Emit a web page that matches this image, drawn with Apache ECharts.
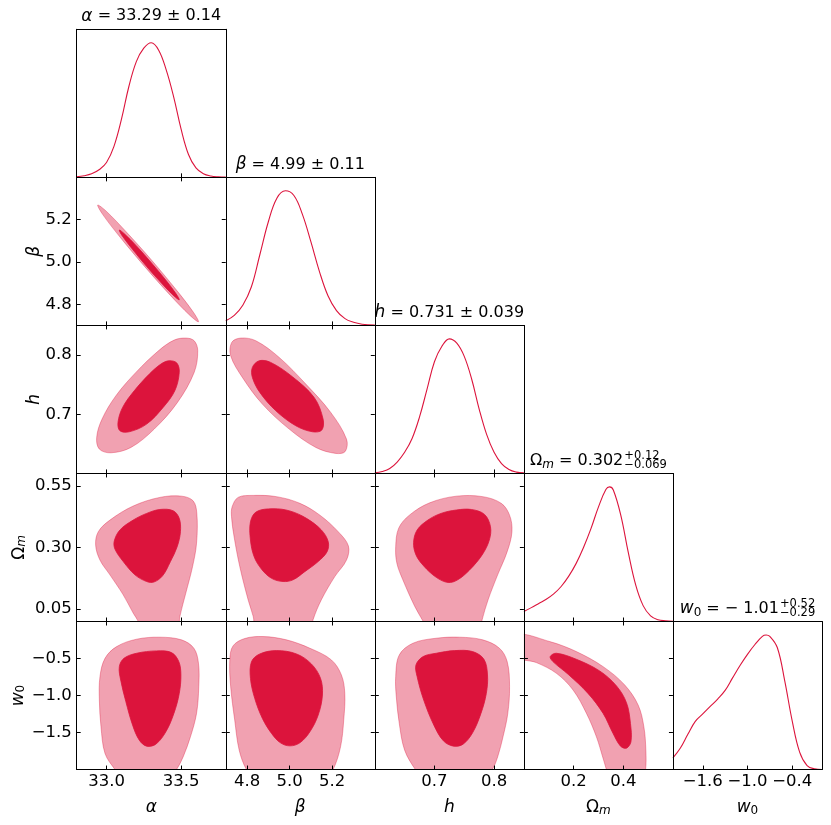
<!DOCTYPE html>
<html>
<head>
<meta charset="utf-8">
<script src="https://cdn.jsdelivr.net/npm/echarts@6.0.0/dist/echarts.min.js"></script>
<style>
  html, body { margin: 0; padding: 0; background: #fff; }
  #chart { width: 831px; height: 825px; }
</style>
</head>
<body>
<div id="chart"></div>
<script>
// parameter order: alpha, beta, h, Omega_m, w0
const axisMin = [32.8, 4.7, 0.6, 0.0, -2.0];
const axisMax = [33.8, 5.4, 0.85, 0.6, 0.0];
const xTickValues = [[33.0, 33.5], [4.8, 5.0, 5.2], [0.7, 0.8], [0.2, 0.4], [-1.6, -1.0, -0.4]];
const yTickValues = [[], [4.8, 5.0, 5.2], [0.7, 0.8], [0.05, 0.30, 0.55], [-1.5, -1.0, -0.5]];
const xTickDigits = [1, 1, 1, 1, 1];
const yTickDigits = [1, 1, 1, 2, 1];
const axisNames = ['{i|α}', '{i|β}', '{i|h}', 'Ω{si|m}', '{i|w}{s|0}'];
const titleMain = ['{i|α} = 33.29 ± 0.14', '{i|β} = 4.99 ± 0.11', '{i|h} = 0.731 ± 0.039', 'Ω{si|m} = 0.302', '{i|w}{s|0} = − 1.01'];
const titleUpper = ['', '', '', '+0.12', '+0.52'];
const titleLower = ['', '', '', '−0.069', '−0.29'];

// 1D marginals: [value, normalised density]
const margAlpha = [[32.80, 0.005], [32.85, 0.012], [32.90, 0.026], [32.95, 0.056], [33.00, 0.11], [33.05, 0.23], [33.10, 0.43], [33.15, 0.675], [33.20, 0.86], [33.25, 0.96], [33.30, 1.0], [33.35, 0.945], [33.40, 0.80], [33.45, 0.60], [33.50, 0.36], [33.55, 0.17], [33.60, 0.07], [33.65, 0.027], [33.70, 0.01], [33.75, 0.004], [33.80, 0.002]];
const margBeta = [[4.70, 0.035], [4.74, 0.075], [4.78, 0.15], [4.82, 0.285], [4.86, 0.525], [4.90, 0.77], [4.94, 0.945], [4.98, 1.0], [5.02, 0.965], [5.06, 0.825], [5.10, 0.62], [5.14, 0.40], [5.18, 0.22], [5.22, 0.11], [5.26, 0.05], [5.30, 0.023], [5.34, 0.009], [5.40, 0.002]];
const margH = [[0.600, 0.005], [0.6125, 0.015], [0.625, 0.037], [0.6375, 0.085], [0.650, 0.157], [0.6625, 0.26], [0.675, 0.42], [0.6875, 0.625], [0.700, 0.83], [0.7125, 0.945], [0.725, 1.0], [0.7375, 0.968], [0.750, 0.87], [0.7625, 0.70], [0.775, 0.478], [0.7875, 0.29], [0.800, 0.157], [0.8125, 0.073], [0.825, 0.029], [0.8375, 0.01], [0.850, 0.004]];
const margOmegam = [[0.00, 0.074], [0.03, 0.103], [0.06, 0.134], [0.09, 0.165], [0.12, 0.205], [0.15, 0.26], [0.18, 0.335], [0.21, 0.43], [0.24, 0.55], [0.27, 0.69], [0.30, 0.85], [0.33, 0.98], [0.345, 1.0], [0.36, 0.977], [0.39, 0.79], [0.42, 0.515], [0.45, 0.272], [0.48, 0.118], [0.51, 0.042], [0.54, 0.013], [0.57, 0.005], [0.60, 0.002]];
const margW0 = [[-2.0, 0.087], [-1.9, 0.16], [-1.8, 0.262], [-1.7, 0.358], [-1.6, 0.413], [-1.5, 0.469], [-1.4, 0.524], [-1.3, 0.588], [-1.2, 0.681], [-1.1, 0.773], [-1.0, 0.856], [-0.9, 0.929], [-0.8, 0.99], [-0.75, 1.0], [-0.7, 0.99], [-0.6, 0.907], [-0.5, 0.659], [-0.4, 0.362], [-0.3, 0.13], [-0.2, 0.03], [-0.1, 0.005], [0.0, 0.0]];
const marginals = [margAlpha, margBeta, margH, margOmegam, margW0];

// 2D credible regions, boundary points [x, y]: 95% (outer) and 68% (inner)
const alphaBeta95 = [[33.617, 4.717], [33.583, 4.762], [33.468, 4.868], [33.303, 5.008], [33.130, 5.144], [32.998, 5.240], [32.941, 5.269], [32.974, 5.225], [33.089, 5.119], [33.255, 4.979], [33.427, 4.843], [33.560, 4.747]];
const alphaBeta68 = [[33.488, 4.821], [33.468, 4.848], [33.400, 4.912], [33.302, 4.995], [33.199, 5.077], [33.120, 5.133], [33.086, 5.151], [33.105, 5.124], [33.173, 5.061], [33.271, 4.977], [33.374, 4.896], [33.453, 4.839]];
const alphaH95 = [[33.532, 0.8286], [33.588, 0.8241], [33.612, 0.8072], [33.588, 0.7706], [33.476, 0.7199], [33.320, 0.6749], [33.164, 0.6439], [33.030, 0.6349], [32.952, 0.6411], [32.934, 0.6608], [32.970, 0.6918], [33.063, 0.7312], [33.197, 0.7706], [33.354, 0.8083], [33.454, 0.8252]];
const alphaH68 = [[33.420, 0.7903], [33.472, 0.7864], [33.488, 0.7706], [33.458, 0.7396], [33.380, 0.7115], [33.269, 0.6833], [33.153, 0.6704], [33.090, 0.6721], [33.077, 0.6861], [33.108, 0.7115], [33.186, 0.7396], [33.287, 0.7678], [33.365, 0.7847]];
const betaH95 = [[4.728, 0.8213], [4.770, 0.8286], [4.841, 0.8241], [4.951, 0.7959], [5.076, 0.7509], [5.193, 0.7030], [5.267, 0.6580], [5.261, 0.6372], [5.217, 0.6338], [5.123, 0.6439], [4.998, 0.6749], [4.872, 0.7171], [4.778, 0.7622], [4.723, 0.7988]];
const betaH68 = [[4.825, 0.7791], [4.857, 0.7903], [4.911, 0.7875], [5.013, 0.7633], [5.115, 0.7284], [5.157, 0.6918], [5.151, 0.6732], [5.107, 0.6704], [5.029, 0.6805], [4.935, 0.7059], [4.860, 0.7368], [4.825, 0.7622]];
const alphaOmegam95 = [[32.927, 0.310], [32.945, 0.364], [33.023, 0.411], [33.179, 0.468], [33.358, 0.503], [33.503, 0.508], [33.581, 0.489], [33.606, 0.438], [33.604, 0.317], [33.577, 0.222], [33.532, 0.115], [33.492, 0.020], [33.475, -0.05], [33.36, -0.10], [33.24, -0.05], [33.213, 0.0], [33.179, 0.034], [33.112, 0.108], [33.023, 0.189], [32.956, 0.249]];
const alphaOmegam68 = [[33.358, 0.454], [33.447, 0.449], [33.488, 0.418], [33.496, 0.364], [33.474, 0.303], [33.429, 0.243], [33.376, 0.185], [33.318, 0.160], [33.269, 0.162], [33.191, 0.189], [33.112, 0.243], [33.057, 0.293], [33.052, 0.326], [33.090, 0.371], [33.179, 0.411], [33.269, 0.438]];
const betaOmegam95 = [[4.730, 0.465], [4.758, 0.503], [4.828, 0.511], [4.938, 0.506], [5.048, 0.479], [5.142, 0.431], [5.228, 0.364], [5.276, 0.306], [5.267, 0.249], [5.212, 0.182], [5.149, 0.088], [5.110, 0.007], [5.095, -0.05], [4.97, -0.10], [4.845, -0.05], [4.829, 0.02], [4.805, 0.088], [4.766, 0.222], [4.739, 0.344], [4.727, 0.425]];
const betaOmegam68 = [[4.816, 0.404], [4.844, 0.445], [4.922, 0.457], [5.001, 0.448], [5.079, 0.418], [5.149, 0.371], [5.181, 0.324], [5.176, 0.283], [5.134, 0.243], [5.071, 0.202], [5.016, 0.169], [4.969, 0.162], [4.915, 0.175], [4.868, 0.212], [4.833, 0.263], [4.816, 0.330]];
const hOmegam95 = [[0.635, 0.303], [0.640, 0.378], [0.658, 0.431], [0.692, 0.481], [0.737, 0.508], [0.781, 0.506], [0.812, 0.479], [0.826, 0.431], [0.830, 0.364], [0.822, 0.283], [0.806, 0.189], [0.790, 0.088], [0.780, 0.007], [0.775, -0.05], [0.735, -0.10], [0.692, -0.05], [0.680, 0.005], [0.667, 0.061], [0.647, 0.169], [0.637, 0.236]];
const hOmegam68 = [[0.737, 0.452], [0.762, 0.454], [0.784, 0.434], [0.794, 0.384], [0.792, 0.330], [0.780, 0.270], [0.759, 0.209], [0.739, 0.169], [0.723, 0.158], [0.703, 0.179], [0.682, 0.225], [0.669, 0.270], [0.665, 0.320], [0.671, 0.371], [0.689, 0.411], [0.711, 0.438]];
const alphaW095 = [[32.956, -0.745], [32.990, -0.497], [33.068, -0.339], [33.202, -0.239], [33.358, -0.212], [33.503, -0.248], [33.586, -0.361], [33.617, -0.564], [33.619, -0.880], [33.604, -1.242], [33.563, -1.558], [33.514, -1.829], [33.470, -2.0], [33.43, -2.1], [33.26, -2.16], [33.10, -2.1], [33.057, -2.0], [32.990, -1.783], [32.963, -1.422], [32.952, -1.061]];
const alphaW068 = [[33.336, -0.397], [33.436, -0.420], [33.485, -0.542], [33.499, -0.722], [33.488, -0.971], [33.452, -1.242], [33.398, -1.490], [33.331, -1.657], [33.269, -1.684], [33.220, -1.603], [33.175, -1.400], [33.130, -1.084], [33.095, -0.790], [33.086, -0.610], [33.117, -0.497], [33.202, -0.429]];
const betaW095 = [[4.719, -0.519], [4.734, -0.330], [4.789, -0.230], [4.875, -0.203], [4.985, -0.248], [5.095, -0.361], [5.196, -0.519], [5.243, -0.722], [5.259, -0.971], [5.254, -1.332], [5.239, -1.693], [5.204, -2.0], [5.17, -2.1], [5.0, -2.16], [4.83, -2.1], [4.797, -2.0], [4.763, -1.738], [4.742, -1.332], [4.723, -0.880]];
const betaW068 = [[4.821, -0.542], [4.860, -0.438], [4.938, -0.393], [5.032, -0.438], [5.102, -0.573], [5.145, -0.768], [5.154, -0.993], [5.134, -1.264], [5.095, -1.490], [5.048, -1.639], [5.001, -1.680], [4.957, -1.639], [4.915, -1.512], [4.872, -1.309], [4.836, -1.038], [4.816, -0.768]];
const hW095 = [[0.635, -0.745], [0.641, -0.452], [0.664, -0.293], [0.703, -0.226], [0.742, -0.212], [0.781, -0.248], [0.809, -0.361], [0.822, -0.542], [0.826, -0.880], [0.823, -1.242], [0.815, -1.558], [0.806, -1.829], [0.797, -2.0], [0.785, -2.1], [0.733, -2.16], [0.68, -2.1], [0.668, -2.0], [0.650, -1.738], [0.641, -1.377], [0.636, -1.016]];
const hW068 = [[0.703, -0.429], [0.734, -0.393], [0.764, -0.406], [0.783, -0.510], [0.789, -0.722], [0.787, -0.971], [0.778, -1.242], [0.764, -1.503], [0.748, -1.657], [0.732, -1.684], [0.715, -1.612], [0.699, -1.400], [0.682, -1.061], [0.671, -0.745], [0.669, -0.587], [0.681, -0.474]];
const omegamW095 = [[-0.03, -0.181], [0.104, -0.271], [0.211, -0.406], [0.319, -0.610], [0.406, -0.858], [0.460, -1.129], [0.483, -1.422], [0.491, -1.738], [0.490, -2.0], [0.48, -2.1], [0.41, -2.16], [0.34, -2.1], [0.332, -2.0], [0.319, -1.851], [0.292, -1.558], [0.252, -1.242], [0.198, -0.926], [0.131, -0.700], [0.050, -0.555], [-0.03, -0.474]];
const omegamW068 = [[0.106, -0.474], [0.131, -0.429], [0.211, -0.510], [0.305, -0.668], [0.373, -0.871], [0.413, -1.097], [0.429, -1.377], [0.431, -1.625], [0.413, -1.711], [0.389, -1.684], [0.359, -1.512], [0.319, -1.242], [0.258, -0.971], [0.178, -0.713], [0.117, -0.542]];

// [row, col, outer, inner]
const panels2d = [
  [1, 0, alphaBeta95, alphaBeta68],
  [2, 0, alphaH95, alphaH68], [2, 1, betaH95, betaH68],
  [3, 0, alphaOmegam95, alphaOmegam68], [3, 1, betaOmegam95, betaOmegam68], [3, 2, hOmegam95, hOmegam68],
  [4, 0, alphaW095, alphaW068], [4, 1, betaW095, betaW068], [4, 2, hW095, hW068], [4, 3, omegamW095, omegamW068]
];

const FONT = 'DejaVu Sans';
const ink = '#000';
const crimson = '#dc143c';
const pale = '#f1a1b1';
const gridLeft = 76.7, gridTop = 29.3, cellW = 149.06, cellH = 148.05;
const yNameGap = [0, 34, 34, 49, 50];

const rich = {
  i: { fontFamily: FONT, fontStyle: 'italic', fontSize: 17, color: ink, fill: ink },
  si: { fontFamily: FONT, fontStyle: 'italic', fontSize: 12, color: ink, fill: ink, verticalAlign: 'bottom', lineHeight: 12 },
  s: { fontFamily: FONT, fontSize: 12, color: ink, fill: ink, verticalAlign: 'bottom', lineHeight: 12 }
};

function fmt(d) {
  return v => v.toFixed(d).replace('-', '\u2212');
}

const grid = [], xAxis = [], yAxis = [], series = [];
const panelAxes = {};

function addPanel(r, c) {
  const gi = grid.length;
  const diag = r === c;
  grid.push({ left: gridLeft + c * cellW, top: gridTop + r * cellH, width: cellW, height: cellH, outerBoundsMode: 'none' });
  const line = { show: true, onZero: false, lineStyle: { color: ink, width: 1 } };
  const xi = xAxis.length;
  xAxis.push({
    gridIndex: gi, type: 'value', position: 'bottom', min: axisMin[c], max: axisMax[c], z: 10,
    axisLine: line, splitLine: { show: false },
    axisTick: { show: true, inside: true, length: 4, customValues: xTickValues[c], lineStyle: { color: ink } },
    axisLabel: { show: r === 4, customValues: xTickValues[c], formatter: fmt(xTickDigits[c]), margin: 4,
      color: ink, fontFamily: FONT, fontSize: 16.5 },
    name: r === 4 ? axisNames[c] : '', nameLocation: 'middle', nameGap: 30, nameMoveOverlap: false,
    nameTextStyle: { color: ink, fontFamily: FONT, fontSize: 17, rich: rich }
  });
  xAxis.push({
    gridIndex: gi, type: 'value', position: 'top', min: axisMin[c], max: axisMax[c], z: 10,
    axisLine: line, splitLine: { show: false },
    axisTick: { show: !diag, inside: true, length: 4, customValues: xTickValues[c], lineStyle: { color: ink } },
    axisLabel: { show: false }
  });
  const yi = yAxis.length;
  const ymin = diag ? 0 : axisMin[r], ymax = diag ? 1.1 : axisMax[r];
  yAxis.push({
    gridIndex: gi, type: 'value', position: 'left', min: ymin, max: ymax, z: 10,
    axisLine: line, splitLine: { show: false },
    axisTick: { show: !diag, inside: true, length: 4, customValues: yTickValues[r], lineStyle: { color: ink } },
    axisLabel: { show: !diag && c === 0, customValues: yTickValues[r], formatter: fmt(yTickDigits[r]), margin: 5,
      color: ink, fontFamily: FONT, fontSize: 16.5 },
    name: (!diag && c === 0) ? axisNames[r] : '', nameLocation: 'middle', nameGap: yNameGap[r], nameMoveOverlap: false,
    nameTextStyle: { color: ink, fontFamily: FONT, fontSize: 17, rich: rich }
  });
  yAxis.push({
    gridIndex: gi, type: 'value', position: 'right', min: ymin, max: ymax, z: 10,
    axisLine: line, splitLine: { show: false },
    axisTick: { show: !diag, inside: true, length: 4, customValues: yTickValues[r], lineStyle: { color: ink } },
    axisLabel: { show: false }
  });
  panelAxes[r + ',' + c] = { xi, yi };
}

function regionSeries(ax, points, fill, stroke) {
  return {
    type: 'custom', xAxisIndex: ax.xi, yAxisIndex: ax.yi, clip: true, silent: true,
    data: points, encode: { x: 0, y: 1 },
    renderItem: (params, api) => {
      if (params.dataIndex !== 0) return null;
      const cs = params.coordSys;
      return {
        type: 'polygon',
        shape: { points: points.map(p => api.coord(p)), smooth: 0.35 },
        style: { fill: fill, stroke: stroke, lineWidth: 0.8 },
        clipPath: { type: 'rect', shape: { x: cs.x, y: cs.y, width: cs.width, height: cs.height } }
      };
    }
  };
}

for (let r = 0; r < 5; r++) {
  for (let c = 0; c <= r; c++) addPanel(r, c);
}
for (let c = 0; c < 5; c++) {
  const ax = panelAxes[c + ',' + c];
  series.push({
    type: 'line', xAxisIndex: ax.xi, yAxisIndex: ax.yi, data: marginals[c],
    smooth: 0.4, symbol: 'none', silent: true, clip: true,
    lineStyle: { color: crimson, width: 1.1 }
  });
}
panels2d.forEach(([r, c, outer, inner]) => {
  const ax = panelAxes[r + ',' + c];
  series.push(regionSeries(ax, outer, pale, 'rgba(220,20,60,0.45)'));
  series.push(regionSeries(ax, inner, crimson, crimson));
});

// titles above the diagonal panels
const ctx = document.createElement('canvas').getContext('2d');
function tokenFont(st) {
  return (st.fontStyle || 'normal') + ' ' + st.fontSize + 'px "' + FONT + '"';
}
function richWidth(str) {
  const re = /\{(\w+)\|([^}]*)\}|([^{]+)/g;
  let m, w = 0;
  while ((m = re.exec(str))) {
    if (m[1]) { ctx.font = tokenFont(rich[m[1]]); w += ctx.measureText(m[2]).width; }
    else { ctx.font = '16px "' + FONT + '"'; w += ctx.measureText(m[3]).width; }
  }
  return w;
}
const graphic = [];
const baseText = { fontFamily: FONT, fontSize: 16, fill: ink, lineHeight: 20, rich: rich, verticalAlign: 'middle' };
for (let c = 0; c < 5; c++) {
  const cx = gridLeft + (c + 0.5) * cellW;
  const cy = gridTop + c * cellH - 13;
  if (!titleUpper[c]) {
    graphic.push({ type: 'text', x: cx, y: cy, z: 20, style: Object.assign({ text: titleMain[c], align: 'center' }, baseText) });
  } else {
    const w1 = richWidth(titleMain[c]);
    ctx.font = '11.5px "' + FONT + '"';
    const w2 = Math.max(ctx.measureText(titleUpper[c]).width, ctx.measureText(titleLower[c]).width);
    const x0 = cx - (w1 + w2 + 1) / 2;
    graphic.push({ type: 'text', x: x0, y: cy, z: 20, style: Object.assign({ text: titleMain[c], align: 'left' }, baseText) });
    graphic.push({ type: 'text', x: x0 + w1 + 1, y: cy - 4.8, z: 20,
      style: { text: titleUpper[c], fontFamily: FONT, fontSize: 11.5, fill: ink, align: 'left', verticalAlign: 'middle' } });
    graphic.push({ type: 'text', x: x0 + w1 + 1, y: cy + 4.8, z: 20,
      style: { text: titleLower[c], fontFamily: FONT, fontSize: 11.5, fill: ink, align: 'left', verticalAlign: 'middle' } });
  }
}

const chart = echarts.init(document.getElementById('chart'));
chart.setOption({
  animation: false,
  backgroundColor: '#fff',
  grid: grid,
  xAxis: xAxis,
  yAxis: yAxis,
  series: series,
  graphic: graphic
});
</script>
</body>
</html>
